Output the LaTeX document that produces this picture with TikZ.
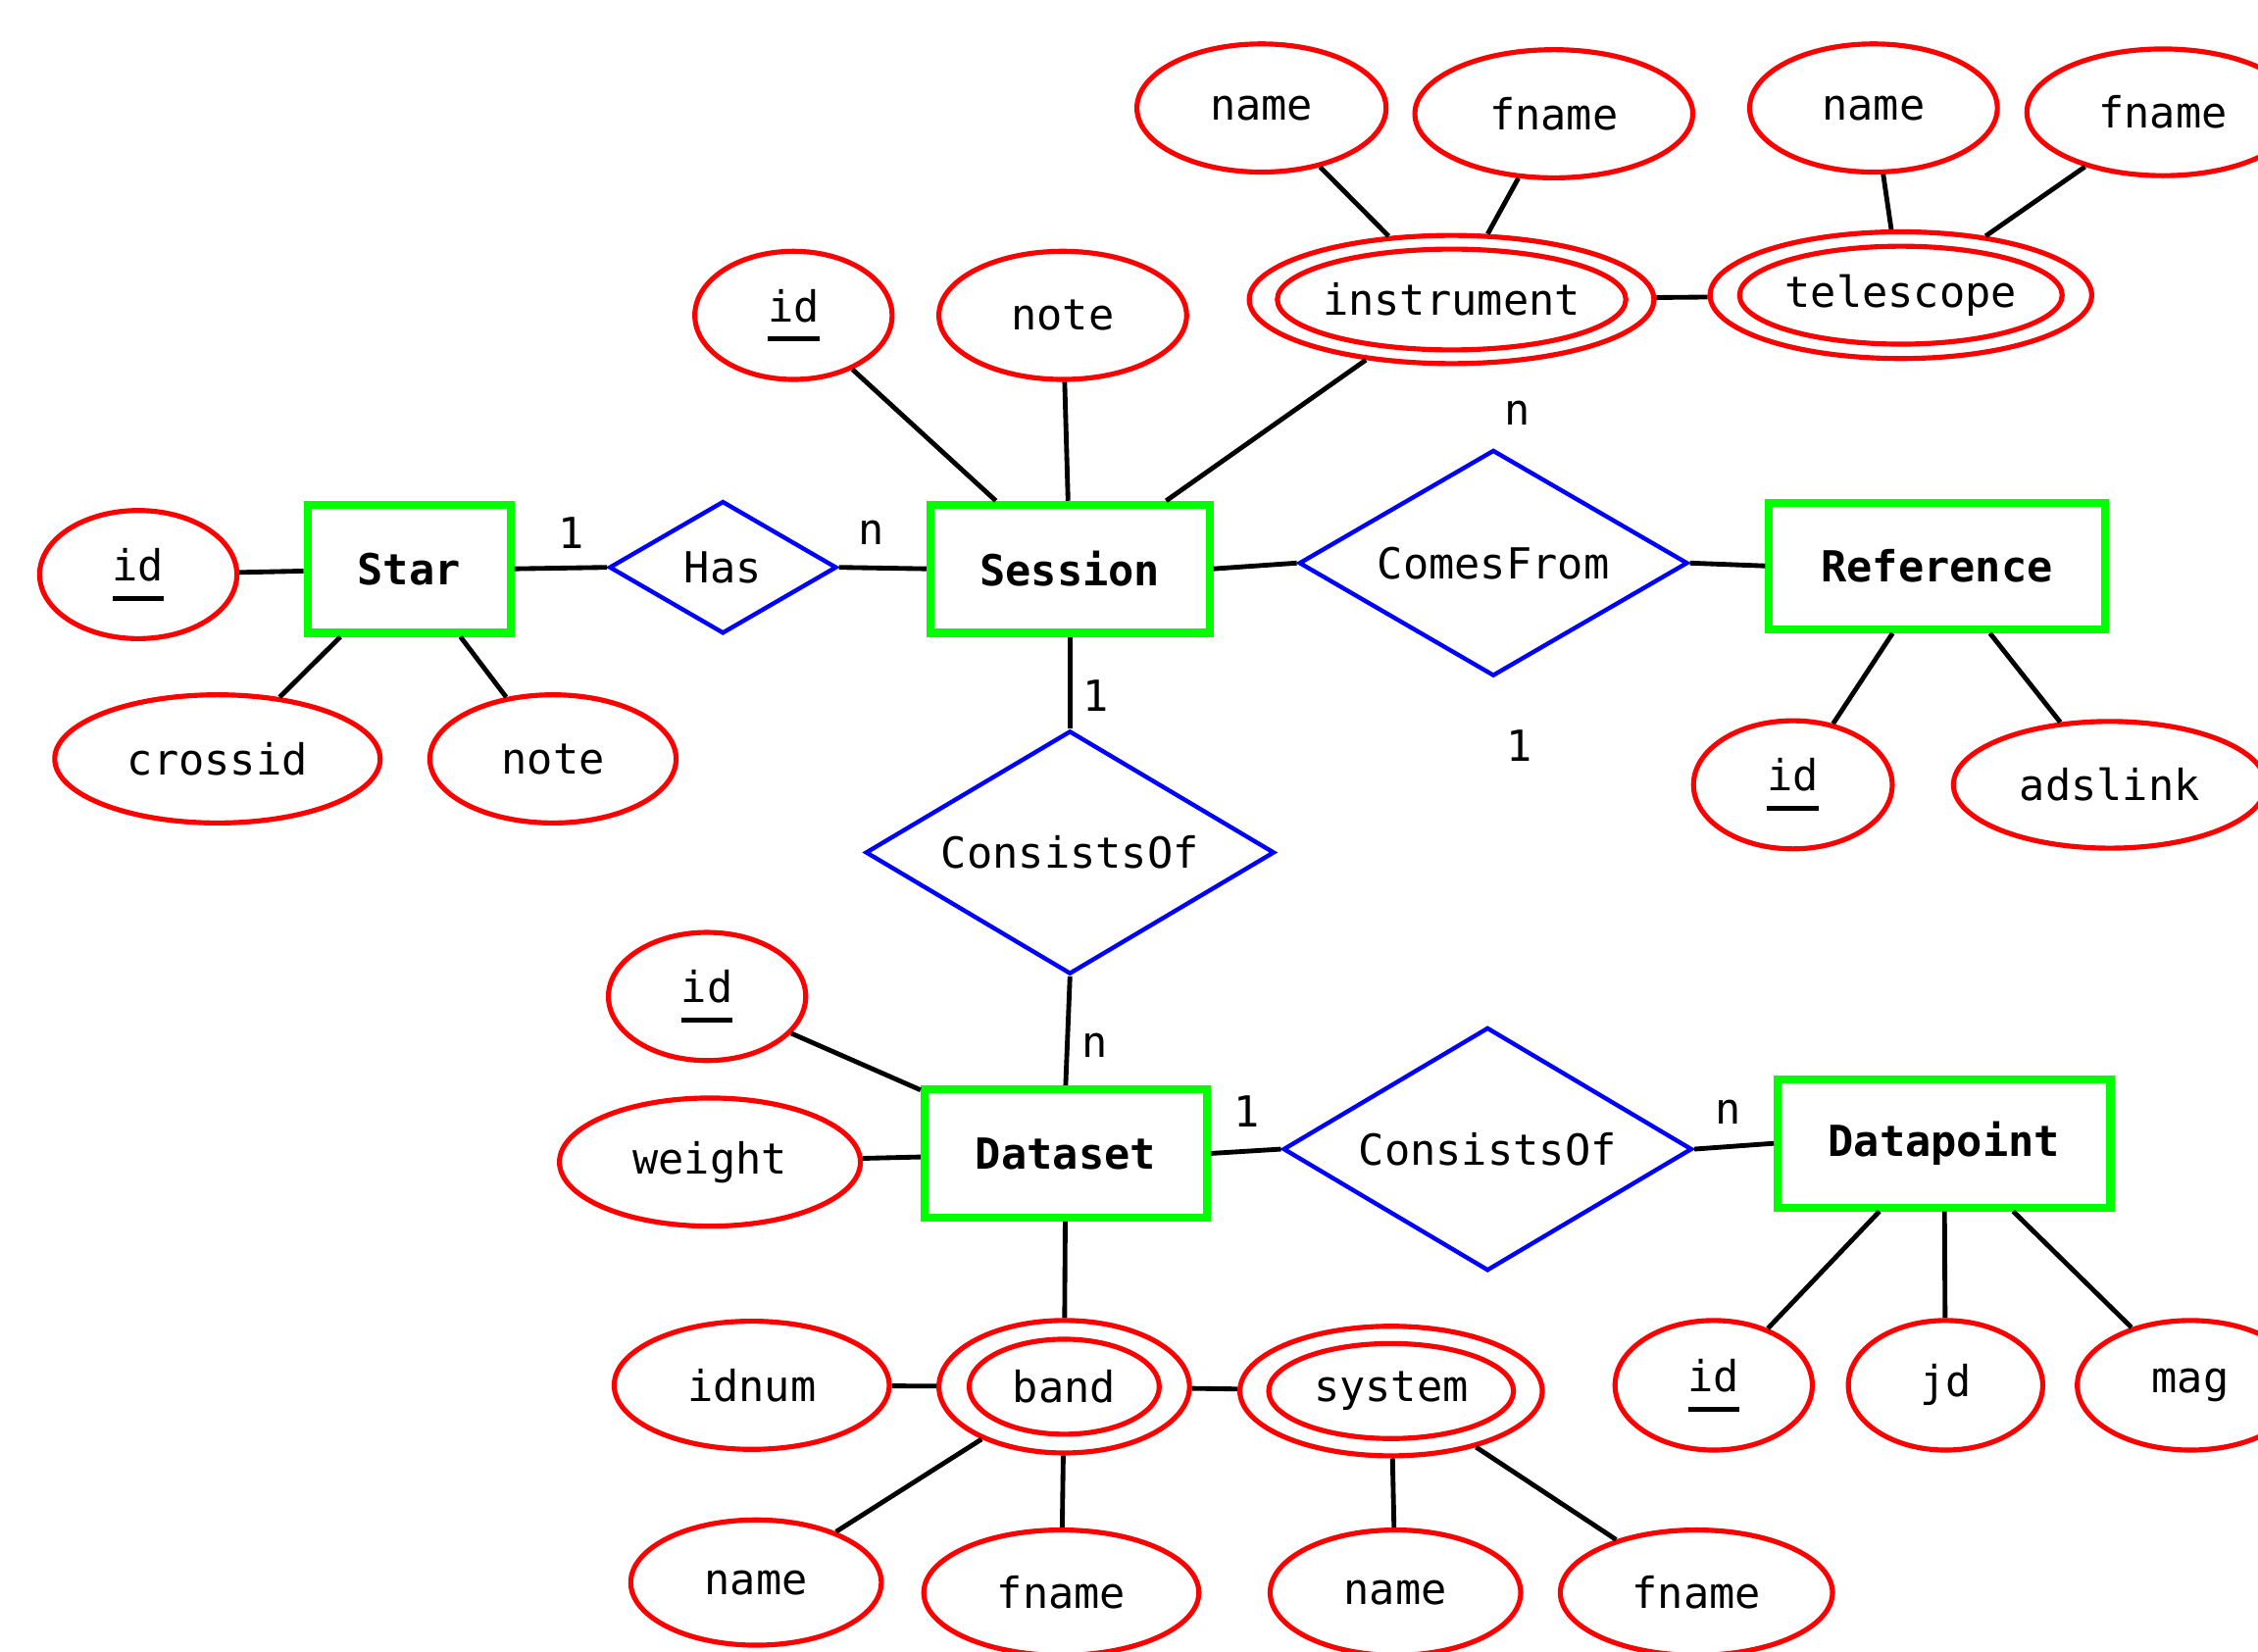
\documentclass[tikz,border=0pt]{standalone}
\usepackage{fontspec}
\setmainfont{DejaVu Sans Mono}
\usetikzlibrary{shapes.geometric}
\definecolor{ered}{RGB}{255,0,0}
\definecolor{egreen}{RGB}{0,255,0}
\definecolor{eblue}{RGB}{0,0,255}
\newcommand{\keyul}[1]{\setbox0\hbox{#1}\vtop{\copy0\kern10pt\hrule width\wd0 height 3.5pt}}
\tikzset{
  every node/.style={font=\fontsize{29.7}{34}\selectfont, inner sep=0pt},
  ent/.style={draw=egreen, line width=5.5pt, rectangle, inner sep=0pt,
    font=\bfseries\fontsize{29.7}{34}\selectfont},
  attr/.style={draw=ered, line width=3.5pt, ellipse, inner sep=0pt},
  inner attr/.style={draw=ered, line width=3.5pt},
  rel/.style={draw=eblue, line width=3pt, diamond, inner sep=0pt},
  conn/.style={line width=3.3pt, black},
  card/.style={inner sep=0pt},
}
\begin{document}
\begin{tikzpicture}[x=1pt, y=-1pt]
\clip (0,0) rectangle (1568,1147);
\fill[white] (0,0) rectangle (1568,1147);
% entities
\node[ent, minimum width=141pt, minimum height=89pt] (star) at (284,395) {Star};
\node[ent, minimum width=194pt, minimum height=89pt] (session) at (743,395) {Session};
\node[ent, minimum width=233pt, minimum height=88pt] (reference) at (1345,393) {Reference};
\node[ent, minimum width=196pt, minimum height=89pt] (dataset) at (740,801) {Dataset};
\node[ent, minimum width=231pt, minimum height=89pt] (datapoint) at (1350,794) {Datapoint};
% relationships
\node[rel, minimum width=158pt, minimum height=92pt, aspect=1.7] (has) at (502,394) {Has};
\node[rel, minimum width=270pt, minimum height=157pt, aspect=1.72] (comesfrom) at (1037,391) {ComesFrom};
\node[rel, minimum width=284pt, minimum height=169pt, aspect=1.68] (cons1) at (743,592) {ConsistsOf};
\node[rel, minimum width=284pt, minimum height=169pt, aspect=1.68] (cons2) at (1033,798) {ConsistsOf};
% star attributes
\node[attr, minimum width=137pt, minimum height=89pt] (starid) at (96,399) {\keyul{id}};
\node[attr, minimum width=226pt, minimum height=89pt] (crossid) at (151,527) {crossid};
\node[attr, minimum width=171pt, minimum height=89pt] (starnote) at (384,527) {note};
% session attributes
\node[attr, minimum width=137pt, minimum height=89pt] (sessid) at (551,219) {\keyul{id}};
\node[attr, minimum width=172pt, minimum height=89pt] (sessnote) at (738,219) {note};
\node[attr, minimum width=281pt, minimum height=89pt] (instr) at (1008,208) {instrument};
\draw[inner attr] (instr.center) ellipse [x radius=121pt, y radius=35pt];
\node[attr, minimum width=265pt, minimum height=88pt] (telesc) at (1320,205) {telescope};
\draw[inner attr] (telesc.center) ellipse [x radius=112pt, y radius=34pt];
\node[attr, minimum width=173pt, minimum height=89pt] (iname) at (876,75) {name};
\node[attr, minimum width=193pt, minimum height=89pt] (ifname) at (1079,79) {fname};
\node[attr, minimum width=172pt, minimum height=89pt] (tname) at (1301,75) {name};
\node[attr, minimum width=189pt, minimum height=88pt] (tfname) at (1502,78) {fname};
% reference attributes
\node[attr, minimum width=138pt, minimum height=89pt] (refid) at (1245,545) {\keyul{id}};
\node[attr, minimum width=217pt, minimum height=88pt] (adslink) at (1465,545) {adslink};
% dataset attributes
\node[attr, minimum width=137pt, minimum height=89pt] (dsid) at (491,692) {\keyul{id}};
\node[attr, minimum width=209pt, minimum height=89pt] (weight) at (493,807) {weight};
\node[attr, minimum width=191pt, minimum height=89pt] (idnum) at (522,962) {idnum};
\node[attr, minimum width=174pt, minimum height=92pt] (band) at (739,963) {band};
\draw[inner attr] (band.center) ellipse [x radius=66pt, y radius=33pt];
\node[attr, minimum width=210pt, minimum height=90pt] (system) at (966,966) {system};
\draw[inner attr] (system.center) ellipse [x radius=85pt, y radius=33pt];
\node[attr, minimum width=174pt, minimum height=87pt] (bname) at (525,1099) {name};
\node[attr, minimum width=191pt, minimum height=87pt] (bfname) at (737,1106) {fname};
\node[attr, minimum width=174pt, minimum height=87pt] (sname) at (969,1106) {name};
\node[attr, minimum width=189pt, minimum height=87pt] (sfname) at (1178,1106) {fname};
% datapoint attributes
\node[attr, minimum width=137pt, minimum height=90pt] (dpid) at (1190,962) {\keyul{id}};
\node[attr, minimum width=135pt, minimum height=90pt] (jd) at (1351,962) {jd};
\node[attr, minimum width=157pt, minimum height=90pt] (mag) at (1521,962) {mag};
% connectors
\draw[conn] (starid) -- (star);
\draw[conn] (star.east) -- (has.west);
\draw[conn] (has.east) -- (session.west);
\draw[conn] (star) -- (crossid);
\draw[conn] (star) -- (starnote);
\draw[conn] (session) -- (sessid);
\draw[conn] (session) -- (sessnote);
\draw[conn] (session) -- (instr);
\draw[conn] (session.east) -- (comesfrom.west);
\draw[conn] (comesfrom.east) -- (reference.west);
\draw[conn] (instr) -- (telesc);
\draw[conn] (iname) -- (instr);
\draw[conn] (ifname) -- (instr);
\draw[conn] (tname) -- (telesc);
\draw[conn] (tfname) -- (telesc);
\draw[conn] (reference) -- (refid);
\draw[conn] (reference) -- (adslink);
\draw[conn] (session.south) -- (cons1.north);
\draw[conn] (cons1.south) -- (dataset.north);
\draw[conn] (dsid) -- (dataset);
\draw[conn] (weight) -- (dataset);
\draw[conn] (dataset.east) -- (cons2.west);
\draw[conn] (cons2.east) -- (datapoint.west);
\draw[conn] (datapoint) -- (dpid);
\draw[conn] (datapoint) -- (jd);
\draw[conn] (datapoint) -- (mag);
\draw[conn] (dataset) -- (band);
\draw[conn] (idnum) -- (band);
\draw[conn] (band) -- (system);
\draw[conn] (band) -- (bname);
\draw[conn] (band) -- (bfname);
\draw[conn] (system) -- (sname);
\draw[conn] (system) -- (sfname);
% cardinalities
\node[card] (c1) at (397,370) {1};
\node[card] (c2) at (605,370) {n};
\node[card] (c3) at (1054,287) {n};
\node[card] (c4) at (1055,518) {1};
\node[card] (c5) at (761,483) {1};
\node[card] (c6) at (760,726) {n};
\node[card] (c7) at (866,772) {1};
\node[card] (c8) at (1200,772) {n};
\end{tikzpicture}
\end{document}
